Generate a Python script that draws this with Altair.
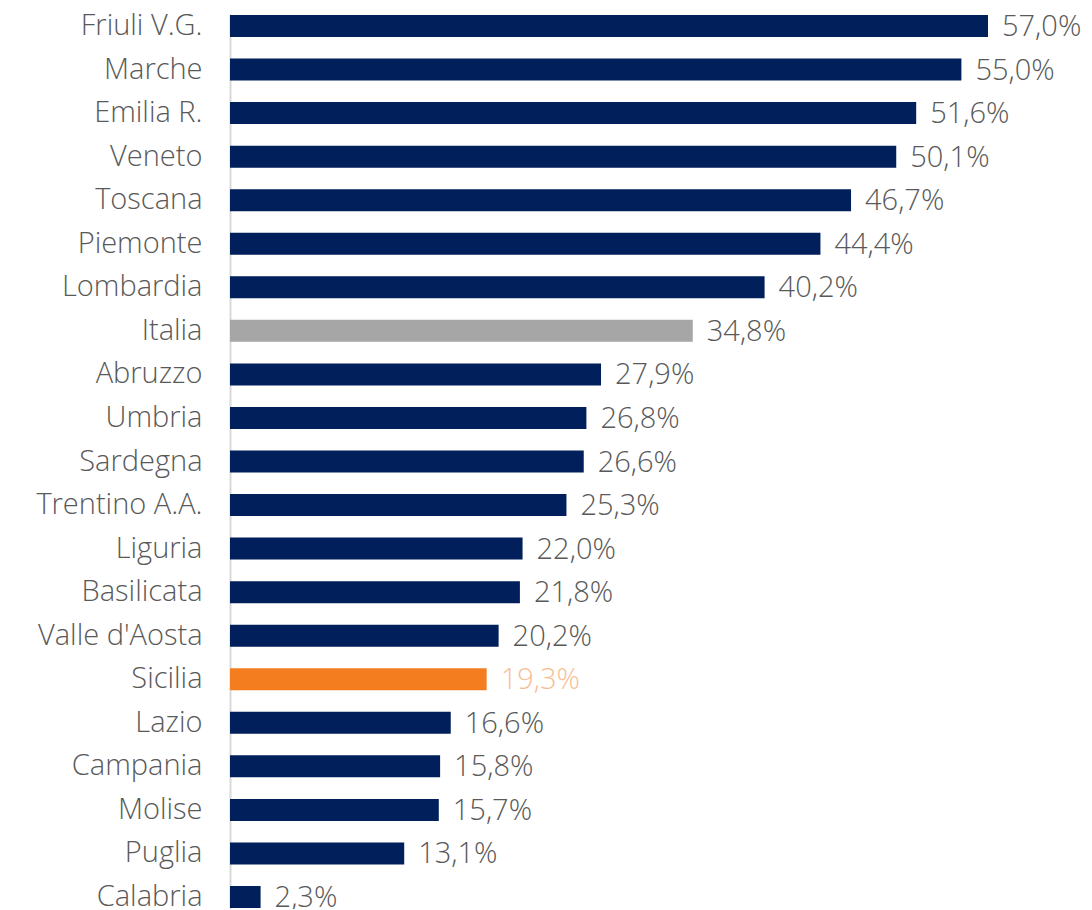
import altair as alt
import pandas as pd

regions = ["Friuli V.G.", "Marche", "Emilia R.", "Veneto", "Toscana", "Piemonte",
           "Lombardia", "Italia", "Abruzzo", "Umbria", "Sardegna", "Trentino A.A.",
           "Liguria", "Basilicata", "Valle d'Aosta", "Sicilia", "Lazio", "Campania",
           "Molise", "Puglia", "Calabria"]
values = [57.0, 55.0, 51.6, 50.1, 46.7, 44.4, 40.2, 34.8, 27.9, 26.8, 26.6, 25.3,
          22.0, 21.8, 20.2, 19.3, 16.6, 15.8, 15.7, 13.1, 2.3]
kinds = ["region"] * 7 + ["italy"] + ["region"] * 7 + ["sicily"] + ["region"] * 5

df = pd.DataFrame({"region": regions, "value": values, "kind": kinds})
df["label"] = df["value"].map(lambda v: f"{v:.1f}".replace(".", ",") + "%")

FONT = "Open Sans"
FS = 29

y = alt.Y("region:N", sort=regions, title=None,
          scale=alt.Scale(paddingInner=0.495, paddingOuter=0.023),
          axis=alt.Axis(ticks=False, labelPadding=28, labelFontSize=FS,
                        labelFont=FONT, labelFontWeight=300, labelColor="#595959",
                        domainColor="#D9D9D9", domainWidth=2, labelLimit=300))
x = alt.X("value:Q", scale=alt.Scale(domain=[0, 57], nice=False), axis=None)

bars = alt.Chart(df).mark_bar().encode(
    x=x, y=y,
    color=alt.Color("kind:N", legend=None,
                    scale=alt.Scale(domain=["region", "italy", "sicily"],
                                    range=["#001F5B", "#A6A6A6", "#F47D20"])),
)

text = alt.Chart(df).mark_text(align="left", baseline="middle", dx=14, dy=1,
                               fontSize=FS, font=FONT, fontWeight=300).encode(
    x=x, y=alt.Y("region:N", sort=regions),
    text="label:N",
    color=alt.Color("kind:N", legend=None,
                    scale=alt.Scale(domain=["region", "italy", "sicily"],
                                    range=["#595959", "#595959", "#F7BE96"])),
)

chart = alt.layer(bars, text).resolve_scale(color="independent").properties(
    width=758, height=895,
    autosize=alt.AutoSizeParams(type="none"),
    padding={"left": 222, "top": 6, "right": 96, "bottom": 0},
).configure_view(stroke=None)

chart.save("out.html", embed_options={"renderer": "svg", "actions": False})
